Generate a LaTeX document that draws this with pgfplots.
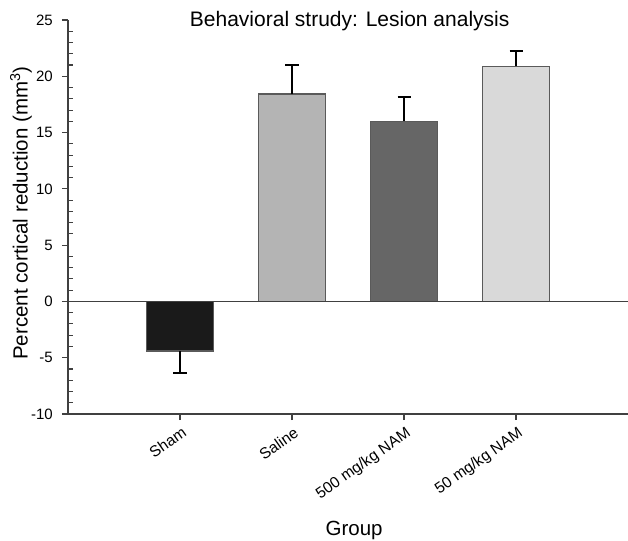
\documentclass[border=0pt]{standalone}
\usepackage{pgfplots}
\pgfplotsset{compat=1.18}
\usepackage{fontspec}
\setmainfont{Liberation Sans}
\definecolor{shamc}{HTML}{1A1A1A}
\definecolor{salinec}{HTML}{B4B4B4}
\definecolor{hic}{HTML}{666666}
\definecolor{loc}{HTML}{D9D9D9}
\definecolor{edgec}{HTML}{5A5A5A}
\definecolor{axisc}{HTML}{404040}
\begin{document}
\begin{tikzpicture}
\begin{axis}[
  at={(0,0)}, anchor=south west,
  scale only axis, width=560bp, height=394bp,
  xmin=0, xmax=5, ymin=-10, ymax=25,
  axis x line*=bottom, axis y line*=left,
  axis line style={draw=axisc, line width=1.3bp},
  tick align=outside,
  major tick length=6bp, minor tick length=5bp,
  tick style={draw=axisc, line width=1.1bp},
  minor y tick style={xshift=5bp},
  ytick={-10,-5,0,5,10,15,20,25}, minor y tick num=4,
  xtick={1,2,3,4},
  xticklabels={Sham,Saline,500 mg/kg NAM,50 mg/kg NAM},
  /pgf/number format/assume math mode=true,
  yticklabel style={font=\fontsize{15bp}{16bp}\selectfont, inner sep=0pt, xshift=-9bp},
  xticklabel style={font=\fontsize{15.5bp}{17bp}\selectfont, inner sep=0pt, xshift=1bp, yshift=-6bp, rotate=35, anchor=north east},
  title={Behavioral strudy: Lesion analysis},
  title style={font=\fontsize{21bp}{24bp}\selectfont, at={(0.503,1)}, anchor=base, yshift=-12bp},
  ylabel={Percent cortical reduction (mm\textsuperscript{3})},
  ylabel style={font=\fontsize{20.5bp}{24bp}\selectfont, at={(axis description cs:-0.0839,0.51)}, anchor=center},
  xlabel={Group},
  xlabel style={font=\fontsize{20.5bp}{24bp}\selectfont, at={(axis description cs:0.511,-0.3096)}, anchor=base},
  clip=false,
]
\addplot[ybar, bar shift=0pt, bar width=0.6, fill=shamc, draw=edgec, line width=1.2bp,
  error bars/.cd, y dir=minus, y explicit,
  error bar style={line width=2bp, black},
  error mark options={rotate=90, mark size=6.5bp, line width=2bp, black}]
  coordinates {(1,-4.4) +- (0,1.93)};
\addplot[ybar, bar shift=0pt, bar width=0.6, fill=salinec, draw=edgec, line width=1.2bp,
  error bars/.cd, y dir=plus, y explicit,
  error bar style={line width=2bp, black},
  error mark options={rotate=90, mark size=6.5bp, line width=2bp, black}]
  coordinates {(2,18.42) +- (0,2.58)};
\addplot[ybar, bar shift=0pt, bar width=0.6, fill=hic, draw=edgec, line width=1.2bp,
  error bars/.cd, y dir=plus, y explicit,
  error bar style={line width=2bp, black},
  error mark options={rotate=90, mark size=6.5bp, line width=2bp, black}]
  coordinates {(3,16.0) +- (0,2.18)};
\addplot[ybar, bar shift=0pt, bar width=0.6, fill=loc, draw=edgec, line width=1.2bp,
  error bars/.cd, y dir=plus, y explicit,
  error bar style={line width=2bp, black},
  error mark options={rotate=90, mark size=6.5bp, line width=2bp, black}]
  coordinates {(4,20.87) +- (0,1.4)};
\addplot[draw=axisc, line width=1.2bp, forget plot] coordinates {(0,0) (5,0)};
\end{axis}
\pgfresetboundingbox
\useasboundingbox (-68bp,-127bp) rectangle (560bp,414bp);
\end{tikzpicture}
\end{document}
